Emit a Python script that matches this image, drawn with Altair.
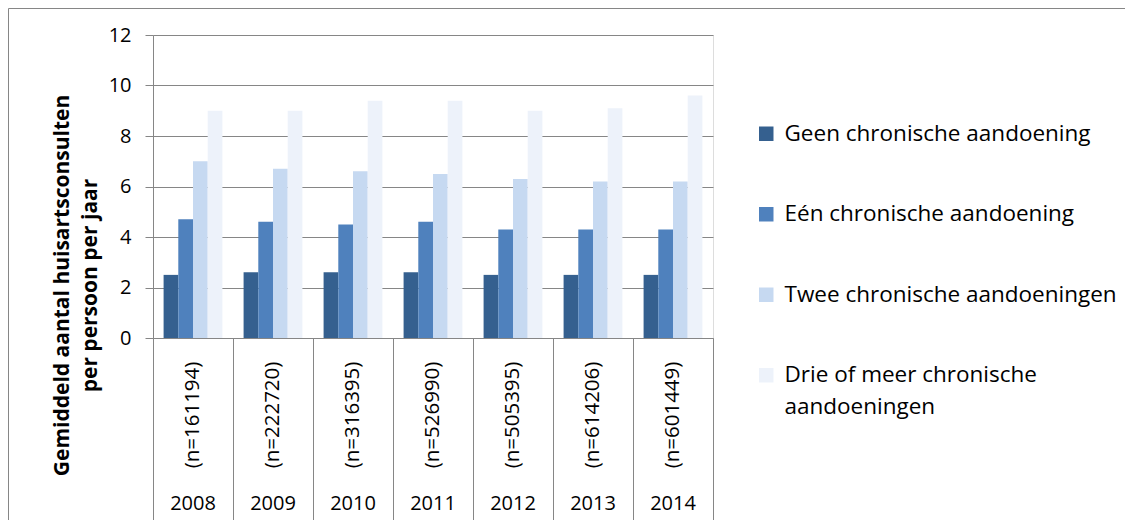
import altair as alt
import pandas as pd

years = ["2008", "2009", "2010", "2011", "2012", "2013", "2014"]
ns = ["(n=161194)", "(n=222720)", "(n=316395)", "(n=526990)",
      "(n=505395)", "(n=614206)", "(n=601449)"]
series = ["Geen chronische aandoening", "Eén chronische aandoening",
          "Twee chronische aandoeningen", "Drie of meer chronische aandoeningen"]
geen = [2.5, 2.6, 2.6, 2.6, 2.5, 2.5, 2.5]
een = [4.7, 4.6, 4.5, 4.6, 4.3, 4.3, 4.3]
twee = [7.0, 6.7, 6.6, 6.5, 6.3, 6.2, 6.2]
drie = [9.0, 9.0, 9.4, 9.4, 9.0, 9.1, 9.6]
colors = ["#35608f", "#4f81bd", "#c6d9f1", "#edf2fa"]

FONT = "Open Sans"
FS = 20
GRAY = "#868686"

rows = []
for s, vals in zip(series, [geen, een, twee, drie]):
    for y, v in zip(years, vals):
        rows.append({"year": y, "series": s, "value": v})
df = pd.DataFrame(rows)
lab = pd.DataFrame({"year": years, "n": ns})

xscale = alt.Scale(domain=years, paddingInner=0, paddingOuter=0)

bars = alt.Chart(df).mark_bar().encode(
    x=alt.X("year:N", scale=xscale,
            axis=alt.Axis(title=None, labels=False, tickBand="extent", tickSize=190,
                          tickColor=GRAY, domainColor=GRAY, grid=False)),
    xOffset=alt.XOffset("series:N", sort=series,
                        scale=alt.Scale(domain=series, paddingOuter=0.72, paddingInner=0)),
    y=alt.Y("value:Q", scale=alt.Scale(domain=[0, 12], nice=False),
            axis=alt.Axis(values=[0, 2, 4, 6, 8, 10, 12], tickSize=8, labelPadding=14,
                          labelFont=FONT, labelFontSize=FS, labelColor="black",
                          gridColor=GRAY, domainColor=GRAY, tickColor=GRAY,
                          title=["Gemiddeld aantal huisartsconsulten", "per persoon per jaar"],
                          titleFont=FONT, titleFontSize=21, titleFontWeight="bold",
                          titleColor="black", titleAngle=-90, titleX=-91, titleY=250,
                          titleAlign="center", titleBaseline="middle", titleLineHeight=28)),
    color=alt.Color("series:N", sort=series,
                    scale=alt.Scale(domain=series, range=colors),
                    legend=alt.Legend(orient="none", legendX=602, legendY=87.5, title=None,
                                      symbolType="square", symbolSize=210, symbolStrokeWidth=0,
                                      labelFont=FONT, labelFontSize=22.5, labelColor="black",
                                      labelOffset=7, labelLimit=500, rowPadding=57.5,
                                      labelExpr="datum.label == 'Drie of meer chronische aandoeningen' ? ['Drie of meer chronische', 'aandoeningen'] : datum.label")),
)

ntext = alt.Chart(lab).mark_text(angle=270, font=FONT, fontSize=20.5, color="black",
                                 align="center", baseline="middle").encode(
    x=alt.X("year:N", scale=xscale), y=alt.value(380), text="n:N")

ytext = alt.Chart(lab).mark_text(font=FONT, fontSize=FS, color="black",
                                 align="center", baseline="middle").encode(
    x=alt.X("year:N", scale=xscale), y=alt.value(469), text="year:N")

border = alt.Chart(pd.DataFrame({"a": [0]})).mark_rect(
    fill=None, stroke=GRAY, strokeWidth=1).encode(
    x=alt.value(-144.5), x2=alt.value(974), y=alt.value(-26.5), y2=alt.value(600))

chart = alt.layer(border, bars, ntext, ytext).properties(
    width=560, height=303,
    padding={"left": 145, "top": 27, "right": 412, "bottom": 182},
    autosize=alt.AutoSizeParams(type="none"),
).configure_view(stroke=None).configure(style={"guide-label": {"lineHeight": 32}})

chart.save("out.html", embed_options={"renderer": "svg", "actions": False})
